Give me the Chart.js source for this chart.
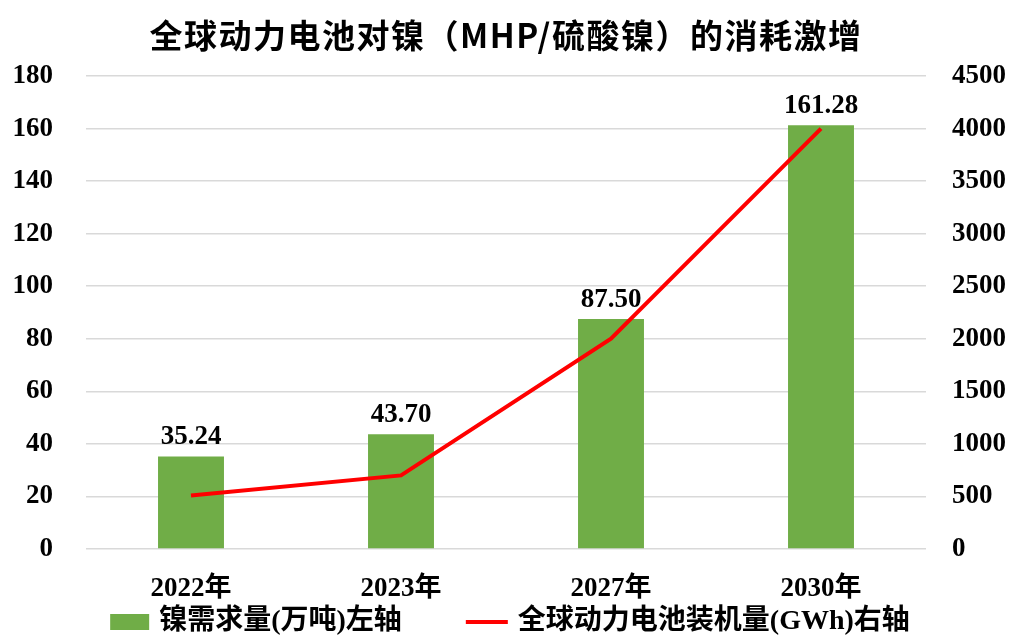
<!DOCTYPE html>
<html>
<head>
<meta charset="utf-8">
<script src="https://cdn.jsdelivr.net/npm/chart.js@4.4.1/dist/chart.umd.min.js"></script>
<style>
  html, body { margin: 0; padding: 0; background: #fff; }
  #wrap { width: 1011px; height: 637px; position: relative; }
</style>
</head>
<body>
<div id="wrap"><canvas id="chart"></canvas></div>
<script>
// chart data
const years = ['2022年', '2023年', '2027年', '2030年'];
const nickelDemand = [35.24, 43.70, 87.50, 161.28];      // 万吨, left axis
const batteryInstalled = [510, 700, 2000, 4000];        // GWh, right axis
const leftTicks = [0, 20, 40, 60, 80, 100, 120, 140, 160, 180];
const rightTicks = [0, 500, 1000, 1500, 2000, 2500, 3000, 3500, 4000, 4500];

const titleText = '全球动力电池对镍（MHP/硫酸镍）的消耗激增';
const barLabel = '镍需求量(万吨)左轴';
const lineLabel = '全球动力电池装机量(GWh)右轴';

const FONT = "'Liberation Serif', 'Noto Sans CJK SC', serif";
const GREEN = '#70AD47';
const RED = '#FF0000';

// draws the title, the value labels and the legend
const decorPlugin = {
    id: 'decor',
    afterDraw(chart) {
        const ctx = chart.ctx;
        ctx.save();
        // title
        ctx.fillStyle = '#000';
        ctx.font = "bold 33px 'Noto Sans CJK SC', 'Liberation Serif'";
        ctx.letterSpacing = '1.5px';
        ctx.textAlign = 'center';
        ctx.textBaseline = 'middle';
        ctx.fillText(titleText, 506, 35);
        ctx.letterSpacing = '0px';

        // value labels over bars (dataset 1 is the bar one)
        const meta = chart.getDatasetMeta(1);
        ctx.font = 'bold 27px ' + FONT;
        ctx.textBaseline = 'alphabetic';
        meta.data.forEach(function (bar, i) {
            ctx.fillText(nickelDemand[i].toFixed(2), bar.x, bar.y - 12);
        });

        // legend
        ctx.font = 'bold 28px ' + FONT;
        const w1 = ctx.measureText(barLabel).width;
        const w2 = ctx.measureText(lineLabel).width;
        const total = 39 + 10 + w1 + 64 + 42 + 10 + w2;
        let x = 510 - total / 2;
        const y = 622;
        ctx.fillStyle = GREEN;
        ctx.fillRect(x, y - 8, 39, 16);
        x += 49;
        ctx.fillStyle = '#000';
        ctx.textAlign = 'left';
        ctx.textBaseline = 'middle';
        ctx.fillText(barLabel, x, y);
        x += w1 + 64;
        ctx.strokeStyle = RED;
        ctx.lineWidth = 4;
        ctx.beginPath();
        ctx.moveTo(x, y);
        ctx.lineTo(x + 42, y);
        ctx.stroke();
        x += 52;
        ctx.fillText(lineLabel, x, y);
        ctx.restore();
    }
};

const ctx = document.getElementById('chart').getContext('2d');
new Chart(ctx, {
    type: 'bar',
    data: {
        labels: years,
        datasets: [{
            type: 'line',
            label: lineLabel,
            data: batteryInstalled,
            yAxisID: 'y1',
            borderColor: RED,
            backgroundColor: RED,
            borderWidth: 4,
            pointRadius: 0,
            tension: 0,
            order: 0
        }, {
            type: 'bar',
            label: barLabel,
            data: nickelDemand,
            yAxisID: 'y',
            backgroundColor: GREEN,
            barPercentage: 0.314,
            categoryPercentage: 1,
            order: 1
        }]
    },
    options: {
        responsive: true,
        maintainAspectRatio: false,
        animation: false,
        layout: { padding: { top: 76, bottom: 38, left: 0, right: 0 } },
        plugins: {
            legend: { display: false },
            title: { display: false },
            tooltip: { enabled: false }
        },
        scales: {
            x: {
                grid: { display: false },
                border: { display: false },
                ticks: { color: '#000', padding: 16, font: { family: FONT, size: 27, weight: 'bold' } },
                afterFit: function (s) { s.height = 50; }
            },
            y: {
                position: 'left',
                min: 0, max: 180,
                afterBuildTicks: function (s) { s.ticks = leftTicks.map(v => ({ value: v })); },
                grid: { color: '#d9d9d9', lineWidth: 1.5, drawTicks: false },
                border: { display: false },
                ticks: { color: '#000', padding: 33, font: { family: FONT, size: 27, weight: 'bold' } },
                afterFit: function (s) { s.width = 86; }
            },
            y1: {
                position: 'right',
                min: 0, max: 4500,
                afterBuildTicks: function (s) { s.ticks = rightTicks.map(v => ({ value: v })); },
                grid: { display: false, drawTicks: false },
                border: { display: false },
                ticks: {
                    color: '#000', padding: 26,
                    font: { family: FONT, size: 27, weight: 'bold' },
                    callback: function (v) { return String(v); }
                },
                afterFit: function (s) { s.width = 85; }
            }
        }
    },
    plugins: [decorPlugin]
});
</script>
</body>
</html>
